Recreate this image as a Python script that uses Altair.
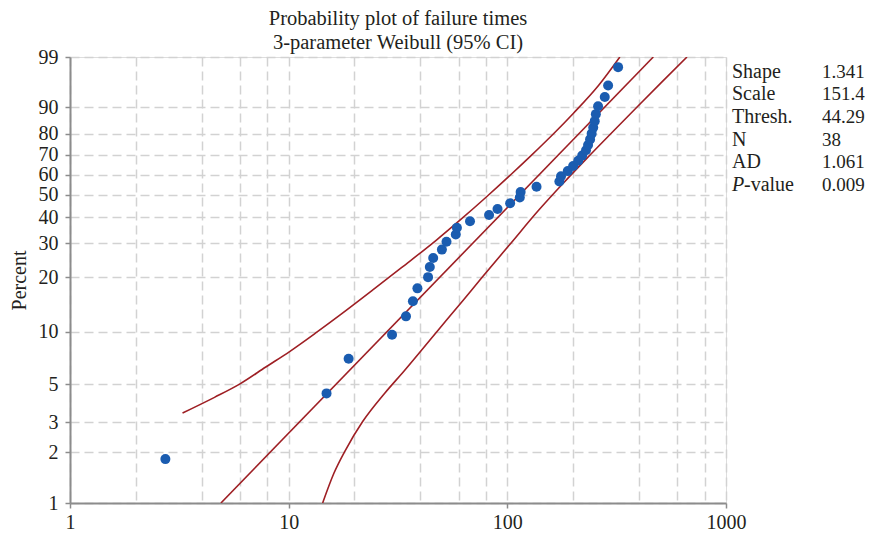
import math
import altair as alt
import pandas as pd

# ---------------- data ----------------
# median-rank plotting positions (percent) of the 38 failure times
pct_ranks = [1.82, 4.43, 7.03, 9.64, 12.24, 14.84, 17.45, 20.05, 22.66, 25.26,
             27.86, 30.47, 33.07, 35.68, 38.28, 40.89, 43.49, 46.09, 48.70, 51.30,
             53.91, 56.51, 59.11, 61.72, 64.32, 66.93, 69.53, 72.14, 74.74, 77.34,
             79.95, 82.55, 85.16, 87.76, 90.36, 92.97, 95.57, 98.18]
# failure time minus threshold (x axis)
fail_x = [2.73, 14.9, 18.8, 29.7, 34.4, 37.0, 38.8, 43.4, 44.2, 45.8,
          50.2, 52.7, 58.1, 58.8, 67.5, 82.5, 90.2, 103, 114, 115,
          136, 173, 176, 189, 200, 211, 220, 229, 234, 239,
          243, 247, 251, 254, 260, 279, 289, 321]

# fitted 3-parameter Weibull line (end points)
fit_x = [4.9, 465]
fit_p = [1.0, 99.0]

# 95% confidence bounds
upper_x = [3.27, 4.58, 5.99, 7.86, 10.1, 13.5, 17.2, 24.1, 32.8, 47.4, 60.9, 80.4,
           103.9, 129.8, 163.1, 200.2, 261.7, 327]
upper_p = [3.4, 4.2, 5.03, 6.3, 7.73, 10.0, 12.46, 17.0, 22.5, 31.1, 38.8, 49.1,
           60, 70, 80, 88, 95.6, 99.0]
lower_x = [14.3, 16.1, 18.2, 21.8, 27.5, 33.8, 47.5, 62.7, 76.7, 103.8, 139.3, 177.9,
           230.3, 298, 390, 503, 663]
lower_p = [1.0, 1.5, 2.06, 3.03, 4.44, 6.0, 10, 15, 20, 30, 43, 55,
           68, 80, 90, 96, 99.0]

y_ticks_pct = [1, 2, 3, 5, 10, 20, 30, 40, 50, 60, 70, 80, 90, 99]
x_grid = [1, 2, 4, 6, 8, 10, 20, 40, 60, 80, 100, 200, 400, 600, 800, 1000]
x_labels = [1, 10, 100, 1000]

stat_labels = ["Shape", "Scale", "Thresh.", "N", "AD", "P-value"]
stat_values = ["1.341", "151.4", "44.29", "38", "1.061", "0.009"]

title_lines = ["Probability plot of failure times", "3-parameter Weibull (95% CI)"]

# ---------------- chart ----------------
def wb(p):
    return math.log(-math.log(1 - p / 100.0))

FONT = "Liberation Serif"
TXT = "#231f20"
PT_COLOR = "#1a5cb0"
LN_COLOR = "#9e1f24"
FRAME = "#8c8c8c"

W, H = 656, 446

pts = pd.DataFrame({"x": fail_x, "pct": pct_ranks})
lines = pd.concat([
    pd.DataFrame({"x": fit_x, "pct": fit_p, "s": "fit"}),
    pd.DataFrame({"x": upper_x, "pct": upper_p, "s": "upper"}),
    pd.DataFrame({"x": lower_x, "pct": lower_p, "s": "lower"}),
])

xlab_test = "indexof([" + ",".join(str(v) for v in x_labels) + "], datum.value) >= 0"

x_enc = alt.X(
    "x:Q",
    scale=alt.Scale(type="log", domain=[1, 1000], nice=False),
    axis=alt.Axis(
        values=x_grid,
        title=None,
        labelExpr=f"{xlab_test} ? format(datum.value, 'd') : ''",
        tickOpacity={"condition": {"test": xlab_test, "value": 1}, "value": 0},
        labelFont=FONT, labelFontSize=20, labelColor=TXT, labelPadding=4,
        labelFlush=False, labelOverlap=False,
        grid=True, gridColor="#d2d2d2", gridDash=[9, 5], gridWidth=1.5,
        domainColor=FRAME, domainWidth=2, tickColor=FRAME, tickSize=5, tickWidth=1.5,
    ),
)
y_enc = alt.Y(
    "w:Q",
    scale=alt.Scale(domain=[wb(1), wb(99)], nice=False, zero=False),
    axis=alt.Axis(
        values=[wb(p) for p in y_ticks_pct],
        title="Percent",
        titleFont=FONT, titleFontSize=20, titleFontWeight="normal", titleColor=TXT,
        titlePadding=9,
        labelExpr="format(100*(1-exp(-exp(datum.value))), '.0f')",
        labelFont=FONT, labelFontSize=20, labelColor=TXT, labelPadding=7,
        labelFlush=False, labelOverlap=False,
        grid=True, gridColor="#d2d2d2", gridDash=[9, 5], gridWidth=1.5,
        domainColor=FRAME, domainWidth=2, tickColor=FRAME, tickSize=5, tickWidth=1.5,
    ),
)

calc = "log(-log(1 - datum.pct/100))"

line_layer = alt.Chart(lines).transform_calculate(w=calc).mark_line(
    color=LN_COLOR, strokeWidth=1.6, interpolate="monotone", clip=True
).encode(x=x_enc, y=y_enc, detail="s:N")

pt_layer = alt.Chart(pts).transform_calculate(w=calc).mark_circle(
    size=100, color=PT_COLOR, opacity=1
).encode(x=x_enc, y=y_enc)

one = pd.DataFrame({"a": [0]})


def txt(x, y, s, size=20, style="normal", align="left"):
    return alt.Chart(one).mark_text(
        align=align, baseline="middle", font=FONT, fontSize=size, color=TXT,
        fontStyle=style,
    ).encode(x=alt.value(x), y=alt.value(y), text=alt.value(s))


text_layers = [
    txt(W / 2, -38, title_lines[0], size=20.5, align="center"),
    txt(W / 2, -14, title_lines[1], size=20.5, align="center"),
]
row0, step = 14.7, 22.6
for i, (lab, val) in enumerate(zip(stat_labels, stat_values)):
    yy = row0 + i * step
    if lab.startswith("P-"):
        text_layers.append(txt(662, yy, "P", style="italic"))
        text_layers.append(txt(674, yy, lab[1:]))
    else:
        text_layers.append(txt(662, yy, lab))
    text_layers.append(txt(752, yy, val, size=19))

chart = alt.layer(line_layer, pt_layer, *text_layers).properties(
    width=W, height=H,
    autosize=alt.AutoSizeParams(type="none"),
    padding={"left": 62, "top": 49, "right": 139, "bottom": 30},
).configure_view(stroke=FRAME, strokeWidth=1.5).configure(background="white")

chart.save("out.html", embed_options={"renderer": "svg", "actions": False})
